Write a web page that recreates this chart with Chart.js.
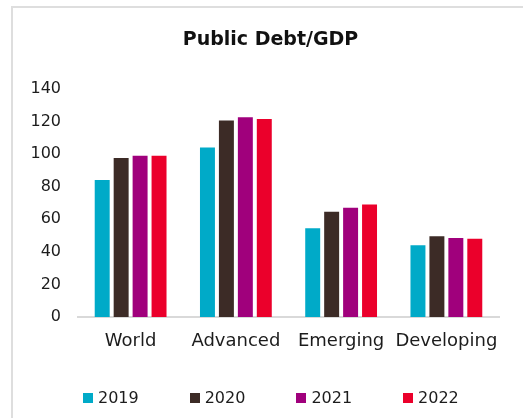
<!DOCTYPE html>
<html>
<head>
<meta charset="utf-8">
<script src="https://cdn.jsdelivr.net/npm/chart.js@4/dist/chart.umd.min.js"></script>
<style>
  html, body { margin: 0; padding: 0; background: #ffffff; }
  body { width: 523px; height: 418px; position: relative; overflow: hidden; }
  #frame {
    position: absolute; left: 11px; top: 6px; width: 600px; height: 500px;
    border-top: 2px solid #dedede; border-left: 2px solid #dedede;
    pointer-events: none;
  }
  #c { position: absolute; left: 0; top: 0; }
  #legend {
    position: absolute; left: 83px; top: 390px;
    display: flex; margin: 0; padding: 0; list-style: none;
    font-family: 'DejaVu Sans', sans-serif; font-size: 16px; line-height: 16px;
    color: #1c1c1c;
  }
  #legend li { width: 106.7px; display: flex; align-items: center; }
  #legend .box { width: 10px; height: 10px; margin-right: 5px; flex: none; }
</style>
</head>
<body>
<canvas id="c" width="523" height="418"></canvas>
<ul id="legend"></ul>
<div id="frame"></div>
<script>
// Public debt as a share of GDP (%), by country group
const categories = ['World', 'Advanced', 'Emerging', 'Developing'];
const years = ['2019', '2020', '2021', '2022'];
const debt2019 = [84, 104, 54.5, 44];
const debt2020 = [97.5, 120.5, 64.5, 49.5];
const debt2021 = [99, 122.5, 67, 48.5];
const debt2022 = [99, 121.5, 69, 48];
const yTicks = [0, 20, 40, 60, 80, 100, 120, 140];

const colors = ['#00aac8', '#3c2b26', '#a0007c', '#eb002b'];
const series = [debt2019, debt2020, debt2021, debt2022];

const font = "'DejaVu Sans', sans-serif";
const ink = '#1c1c1c';

// Builds the legend as an HTML list from the chart's own legend items
const htmlLegend = {
  id: 'htmlLegend',
  afterUpdate(chart) {
    const ul = document.getElementById('legend');
    ul.innerHTML = '';
    const items = chart.options.plugins.legend.labels.generateLabels(chart);
    items.forEach(item => {
      const li = document.createElement('li');
      const box = document.createElement('span');
      box.className = 'box';
      box.style.background = item.fillStyle;
      const txt = document.createElement('span');
      txt.textContent = item.text;
      li.appendChild(box);
      li.appendChild(txt);
      ul.appendChild(li);
    });
  }
};

// Nudges the centred title slightly to the right
const titleShift = {
  id: 'titleShift',
  afterLayout(chart) {
    if (chart.titleBlock) chart.titleBlock.left += 14;
  }
};

new Chart(document.getElementById('c'), {
  type: 'bar',
  data: {
    labels: categories,
    datasets: series.map((vals, i) => ({
      label: years[i],
      data: vals,
      backgroundColor: colors[i],
      borderWidth: 0,
      categoryPercentage: 0.72,
      barPercentage: 0.79
    }))
  },
  plugins: [htmlLegend, titleShift],
  options: {
    responsive: false,
    animation: false,
    layout: { padding: { left: 28, right: 24, top: 0, bottom: 60 } },
    plugins: {
      title: {
        display: true,
        text: 'Public Debt/GDP',
        color: '#111111',
        font: { family: font, size: 19, weight: 'bold' },
        padding: { top: 29, bottom: 37 }
      },
      legend: { display: false },
      tooltip: { enabled: false }
    },
    scales: {
      x: {
        afterFit: (s) => { s.height = 41; },
        grid: { display: false, drawTicks: false },
        border: { display: true, color: '#d9d9d9', width: 2 },
        ticks: {
          color: ink, font: { family: font, size: 18 }, padding: 14,
          maxRotation: 0, minRotation: 0, autoSkip: false
        }
      },
      y: {
        min: 0,
        max: 140,
        afterFit: (s) => { s.width = 50; },
        afterBuildTicks: (s) => { s.ticks = yTicks.map(v => ({ value: v })); },
        grid: { display: false, drawTicks: false },
        border: { display: false },
        ticks: { color: ink, font: { family: font, size: 16 }, padding: 17, autoSkip: false }
      }
    }
  }
});
</script>
</body>
</html>
